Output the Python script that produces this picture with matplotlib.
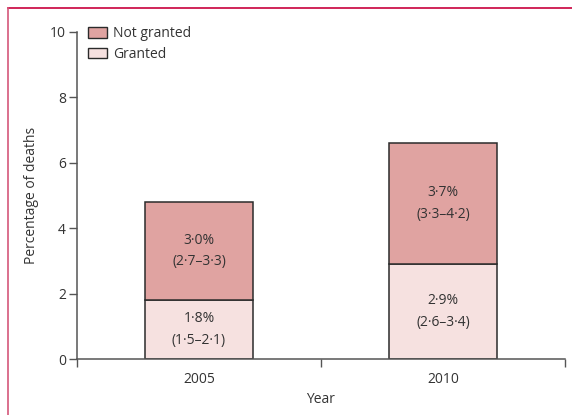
import matplotlib
matplotlib.use('Agg')
import matplotlib.pyplot as plt
from matplotlib.lines import Line2D
from matplotlib.patches import Patch

plt.rcParams['font.family'] = ['Open Sans', 'DejaVu Sans']
plt.rcParams['font.size'] = 10

years = ['2005', '2010']
granted = [1.8, 2.9]
not_granted = [3.0, 3.7]
granted_labels = ['1·8%\n(1·5–2·1)', '2·9%\n(2·6–3·4)']
not_granted_labels = ['3·0%\n(2·7–3·3)', '3·7%\n(3·3–4·2)']

c_not = '#e0a3a1'
c_gr = '#f6e1e0'
edge = '#2b2b2b'
txt = '#333333'
axc = '#555555'

fig = plt.figure(figsize=(5.72, 4.15), dpi=100)
ax = fig.add_axes([77/572, 1-359/415, (565-77)/572, (359-32)/415])

x = range(len(years))
w = 0.44
ax.bar(x, granted, w, color=c_gr, edgecolor=edge, linewidth=1.1, zorder=2)
ax.bar(x, not_granted, w, bottom=granted, color=c_not, edgecolor=edge, linewidth=1.1, zorder=2)

for i in x:
    ax.text(i, granted[i]/2, granted_labels[i], ha='center', va='center',
            color=txt, linespacing=1.6)
    ax.text(i, granted[i] + not_granted[i]/2, not_granted_labels[i], ha='center',
            va='center', color=txt, linespacing=1.6)

ax.set_xlim(-0.5, 1.5)
ax.set_ylim(0, 10)
ax.set_yticks([0, 2, 4, 6, 8, 10])
ax.set_xticks([-0.5, 0.5, 1.5])
ax.set_xticklabels([])
ax.set_xticks(list(x), minor=True)
ax.set_xticklabels(years, minor=True)
ax.tick_params(axis='x', which='major', direction='out', length=6, width=1, color=axc)
ax.tick_params(axis='x', which='minor', length=0, pad=9, labelcolor=txt)
ax.tick_params(axis='y', direction='out', length=6, width=1, color=axc, labelcolor=txt, pad=2)

for s in ['top', 'right']:
    ax.spines[s].set_visible(False)
for s in ['left', 'bottom']:
    ax.spines[s].set_color(axc)
    ax.spines[s].set_linewidth(1.1)

ax.set_ylabel('Percentage of deaths', color=txt, labelpad=8)
ax.set_xlabel('Year', color=txt, labelpad=4)

handles = [Patch(facecolor=c_not, edgecolor=edge, label='Not granted'),
           Patch(facecolor=c_gr, edgecolor=edge, label='Granted')]
ax.legend(handles=handles, loc='upper left', bbox_to_anchor=(0.012, 1.035), frameon=False,
          handlelength=1.35, handleheight=0.8, handletextpad=0.45, labelspacing=0.4,
          borderaxespad=0, labelcolor=txt)

# journal frame: top and left rule
fig.add_artist(Line2D([8/572, 1], [1-8/415, 1-8/415], color='#c8003c', lw=1.2))
fig.add_artist(Line2D([8/572, 8/572], [0, 1-8/415], color='#d4577a', lw=1.2))

fig.savefig('out.png', dpi=100)
